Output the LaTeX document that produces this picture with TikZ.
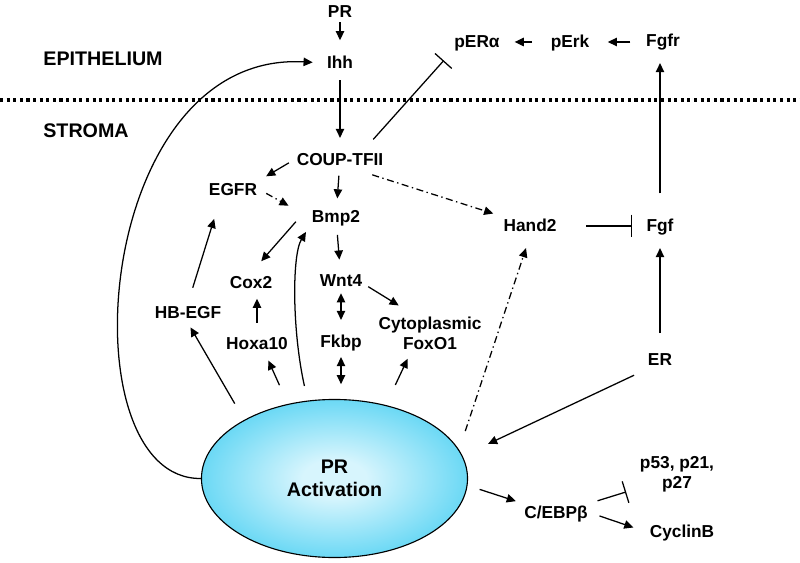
\documentclass[tikz,border=0pt]{standalone}
\usepackage{fontspec}
\setmainfont{Liberation Sans}
\usetikzlibrary{arrows.meta,shapes.geometric}

\definecolor{prin}{RGB}{215,245,253}
\definecolor{prout}{RGB}{45,200,240}
\pgfdeclareradialshading{prglow}{\pgfpoint{0bp}{0bp}}{color(0bp)=(prin); color(6bp)=(prin); color(36bp)=(prout); color(50bp)=(prout)}

\begin{document}
\begin{tikzpicture}[x=0.025cm, y=-0.025cm,
    gene/.style={font={\fontsize{12.3}{14.2}\selectfont\bfseries}, inner sep=2pt, text height=9pt, text depth=1pt},
    genetwo/.style={font={\fontsize{12.3}{14.2}\selectfont\bfseries}, inner sep=2pt, align=center},
    region/.style={font={\fontsize{14}{16}\selectfont\bfseries}},
    actarrow/.style={line width=0.9pt, -{Triangle[length=6.5pt,width=6pt]}},
    twoway/.style={line width=0.9pt, {Triangle[length=6.5pt,width=6pt]}-{Triangle[length=6.5pt,width=6pt]}},
    inhibit/.style={line width=0.9pt, -{Bar[width=16pt]}},
    weak/.style={actarrow, dash pattern=on 5pt off 2.5pt on 1pt off 2.5pt}]
    \useasboundingbox (0,0) rectangle (800,563);

    % Epithelium / stroma border
    \node[region] (lepi) at (103,59) {EPITHELIUM};
    \node[region] (lstr) at (86,131) {STROMA};
    \draw[line width=2.2pt, dash pattern=on 2.2pt off 2.5pt] (0,100) -- (800,100);

    % Genes
    \node[gene] (pr) at (340,12) {PR};
    \node[gene] (ihh) at (340,63) {Ihh};
    \node[gene] (pera) at (477,42) {pERα};
    \node[gene] (perk) at (570,42) {pErk};
    \node[gene] (fgfr) at (663,41) {Fgfr};
    \node[gene] (coup) at (340,160) {COUP-TFII};
    \node[gene] (egfr) at (233,190) {EGFR};
    \node[gene] (bmp2) at (336,217) {Bmp2};
    \node[gene] (hand2) at (530,226) {Hand2};
    \node[gene] (fgf) at (660,226) {Fgf};
    \node[gene] (cox2) at (251,283) {Cox2};
    \node[gene] (wnt4) at (341,281) {Wnt4};
    \node[gene] (hbegf) at (188,313) {HB-EGF};
    \node[gene] (hoxa) at (257,344) {Hoxa10};
    \node[gene] (fkbp) at (341,342) {Fkbp};
    \node[genetwo] (foxo) at (430,333) {Cytoplasmic\\FoxO1};
    \node[gene] (er) at (660,360) {ER};
    \node[gene] (cebp) at (556,513) {C/EBPβ};
    \node[genetwo] (p53) at (677,474) {p53, p21,\\p27};
    \node[gene] (cyc) at (682,532) {CyclinB};

    % PR activation
    \node[ellipse, draw, line width=0.8pt, shading=prglow, minimum width=6.65cm, minimum height=3.95cm,
          inner sep=0pt, align=center, font={\fontsize{14}{16.3}\selectfont\bfseries}] (pract) at (334.5,478.5) {PR\\Activation};

    % Epithelial arrows
    \draw[actarrow, shorten >=9pt] (pr) -- (ihh);
    \draw[actarrow, shorten <=5pt, shorten >=8.5pt] (ihh) -- (coup);
    \draw[actarrow, shorten <=11pt, shorten >=8.5pt] (perk) -- (pera);
    \draw[actarrow, shorten <=9pt, shorten >=11pt] (fgfr.west |- perk) -- (perk);
    \draw[inhibit, shorten <=10pt, shorten >=8pt] (coup.23) -- (pera.south west);
    \draw[actarrow, shorten <=16pt, shorten >=8.5pt] (fgf.north) -- (fgf.north |- fgfr.south);

    % Loop back to Ihh
    \draw[actarrow, shorten >=8pt] (pract.west) .. controls (65,480) and (92,50) .. (ihh.west);

    % Stromal arrows
    \draw[actarrow, shorten <=4pt, shorten >=5pt] (coup.west) -- (egfr.north east);
    \draw[actarrow, shorten <=4pt, shorten >=6pt] (coup) -- (bmp2);
    \draw[weak, shorten <=5pt, shorten >=16.5pt] (egfr.east) -- (bmp2.west);
    \draw[weak, shorten <=11pt, shorten >=5.4pt] (coup.-30) -- (hand2.north west);
    \draw[actarrow, shorten <=14pt, shorten >=11pt] (bmp2.north west) -- (cox2.north);
    \draw[actarrow, shorten <=5.5pt, shorten >=8pt] (bmp2) -- (wnt4);
    \draw[actarrow, shorten <=2.5pt, shorten >=11pt] (wnt4.-9) -- (foxo.133);
    \draw[twoway, shorten <=1.5pt, shorten >=8.5pt] (wnt4) -- (fkbp);
    \draw[actarrow, shorten <=8pt, shorten >=4pt] (hoxa.north) -- (hoxa.north |- cox2.south);
    \draw[actarrow, shorten <=11.3pt, shorten >=14pt] (hbegf.north) -- (egfr.-142);

    % Out of PR activation
    \draw[actarrow, shorten <=13.4pt, shorten >=3.5pt] (pract.147.5) -- (hbegf.south);
    \draw[actarrow, shorten <=14.6pt, shorten >=5pt] (pract.122) -- (hoxa.-50);
    \draw[actarrow, shorten <=10.6pt, shorten >=4pt] (pract.109) .. controls (292,330) and (292,255) .. (bmp2.south west);
    \draw[twoway, shorten <=3.5pt, shorten >=10.5pt] (fkbp.south) -- (fkbp.south |- pract.north);
    \draw[actarrow, shorten <=15.8pt, shorten >=5pt] (pract.55) -- (foxo.-135);
    \draw[weak, shorten <=14pt, shorten >=9pt] (pract.13) -- (hand2.south);
    \draw[actarrow, shorten <=9pt, shorten >=4pt] (pract.-3) -- (cebp.north west);

    % Fgf side
    \draw[inhibit, shorten <=19pt, shorten >=8pt] (hand2) -- (fgf);
    \draw[actarrow, shorten <=12pt, shorten >=8.5pt] (er) -- (fgf);
    \draw[actarrow, shorten <=8.5pt, shorten >=20pt] (er.south west) -- (pract.10);

    % C/EBPbeta targets
    \draw[inhibit, shorten <=5pt, shorten >=8pt] (cebp.north east) -- (p53.200);
    \draw[actarrow, shorten <=6.5pt, shorten >=10pt] (cebp.east) -- (cyc.west);
\end{tikzpicture}
\end{document}
